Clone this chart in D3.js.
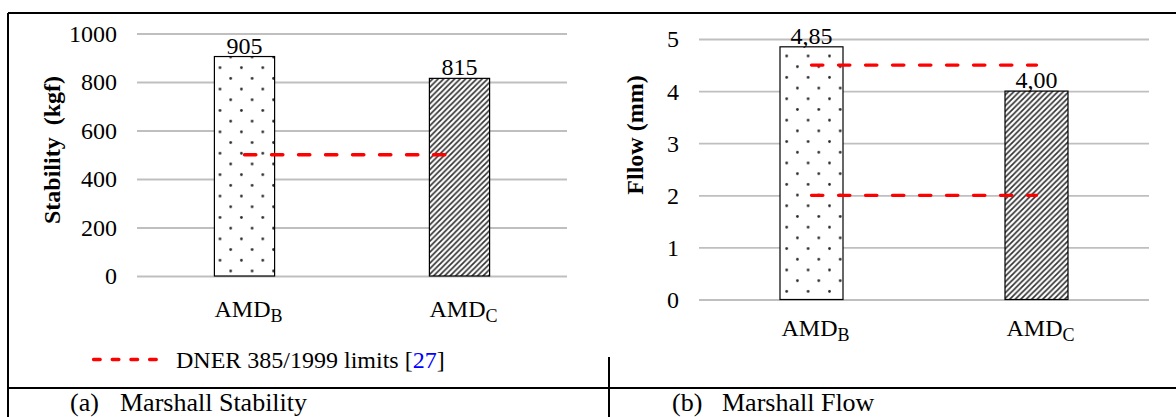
<!DOCTYPE html>
<html><head><meta charset="utf-8">
<script src="https://cdn.jsdelivr.net/npm/d3@7"></script>
<style>
html,body{margin:0;padding:0;background:#fff;}
svg{display:block;}
text{font-family:"Liberation Serif","Times New Roman",serif;fill:#000;}
</style></head><body>
<svg id="chart" width="1176" height="417"></svg>
<script>
// ---- data ----
const categories = ["AMD_B", "AMD_C"];
const catMain = ["AMD", "AMD"];
const catSub = ["B", "C"];
const stabilityValues = [905, 815];
const flowValues = [4.85, 4.00];
const stabilityTicks = [0, 200, 400, 600, 800, 1000];
const flowTicks = [0, 1, 2, 3, 4, 5];
const stabilityLimits = [500];
const flowLimits = [4.5, 2];
const legendParts = ["DNER 385/1999 limits [", "27", "]"];
const captionLetters = ["(a)", "(b)"];
const captionTexts = ["Marshall Stability", "Marshall Flow"];
const yTitles = ["Stability  (kgf)", "Fllow (mm)"];

const svg = d3.select("#chart");
svg.append("rect").attr("width", 1176).attr("height", 417).attr("fill", "#fff");
const defs = svg.append("defs");

function dotPattern(id, ox, oy) {
  const s = 21.4;
  const p = defs.append("pattern").attr("id", id).attr("patternUnits", "userSpaceOnUse")
    .attr("width", s).attr("height", s).attr("x", ox).attr("y", oy);
  p.append("rect").attr("width", s).attr("height", s).attr("fill", "#fff");
  p.append("circle").attr("cx", s / 4).attr("cy", s / 4).attr("r", 1.35).attr("fill", "#2a2a2a");
  p.append("circle").attr("cx", 3 * s / 4).attr("cy", 3 * s / 4).attr("r", 1.35).attr("fill", "#2a2a2a");
}
function hatchPattern(id) {
  const s = 5.5;
  const p = defs.append("pattern").attr("id", id).attr("patternUnits", "userSpaceOnUse")
    .attr("width", s).attr("height", s);
  p.append("rect").attr("width", s).attr("height", s).attr("fill", "#fff");
  p.append("path").attr("d", `M0,${s} L${s},0 M${-s/2},${s/2} L${s/2},${-s/2} M${s/2},${s*1.5} L${s*1.5},${s/2}`)
    .attr("stroke", "#333").attr("stroke-width", 1.7);
}
dotPattern("dotsL", 220 - 21.4 / 4, 67.7 - 21.4 / 4);
dotPattern("dotsR", 786.7 - 21.4 / 4, 56 - 21.4 / 4);
hatchPattern("hatch");

function drawPanel(o) {
  const g = svg.append("g");
  const x = d3.scaleBand().domain(categories).range(o.xr).paddingInner(0.72).paddingOuter(0.36);
  const y = d3.scaleLinear().domain(o.yd).range(o.yr);

  const axis = d3.axisLeft(y).tickValues(o.ticks).tickSize(-(o.xr[1] - o.xr[0])).tickPadding(20)
    .tickFormat(d3.format("d"));
  const ag = g.append("g").attr("transform", `translate(${o.xr[0]},0)`).call(axis);
  ag.select(".domain").remove();
  ag.selectAll(".tick line").attr("stroke", "#bfbfbf").attr("stroke-width", 1.8);
  ag.selectAll(".tick text").attr("font-size", 24).attr("fill", "#000")
    .attr("font-family", '"Liberation Serif","Times New Roman",serif').attr("dy", "0.33em");

  const bw = x.bandwidth();
  g.selectAll(".bar").data(o.values).join("rect")
    .attr("x", (d, i) => x(categories[i]))
    .attr("y", d => y(d))
    .attr("width", bw)
    .attr("height", d => y(0) - y(d))
    .attr("fill", (d, i) => `url(#${o.patterns[i]})`)
    .attr("stroke", "#000").attr("stroke-width", 1.2);

  const cx = i => x(categories[i]) + bw / 2;
  g.selectAll(".lim").data(o.limits).join("line")
    .attr("x1", cx(0)).attr("x2", cx(1))
    .attr("y1", d => y(d)).attr("y2", d => y(d))
    .attr("stroke", "#ff0000").attr("stroke-width", 3.3)
    .attr("stroke-dasharray", "11.4,15.6").attr("stroke-linecap", "round");

  g.selectAll(".val").data(o.values).join("text")
    .attr("x", (d, i) => cx(i)).attr("y", d => y(d) - 3)
    .attr("text-anchor", "middle").attr("font-size", 24)
    .text(o.fmt);

  categories.forEach((c, i) => {
    const t = g.append("text").attr("x", cx(i) + 4).attr("y", o.catY)
      .attr("text-anchor", "middle").attr("font-size", 24);
    t.append("tspan").text(catMain[i]);
    t.append("tspan").attr("font-size", 18).attr("dy", 4.5).text(catSub[i]);
  });

  g.append("text").attr("transform", `translate(${o.titleX},${o.titleY}) rotate(-90)`)
    .attr("text-anchor", "middle").attr("font-size", 24).attr("font-weight", "bold")
    .style("white-space", "pre").attr("xml:space", "preserve")
    .text(o.title);
}

drawPanel({
  xr: [137, 567], yd: [0, 1000], yr: [276, 33.5], ticks: stabilityTicks,
  values: stabilityValues, limits: stabilityLimits, patterns: ["dotsL", "hatch"],
  fmt: d3.format("d"), catY: 317, title: yTitles[0], titleX: 60, titleY: 150
});
drawPanel({
  xr: [699, 1149], yd: [0, 5], yr: [299.5, 39], ticks: flowTicks,
  values: flowValues, limits: flowLimits, patterns: ["dotsR", "hatch"],
  fmt: d => d3.format(".2f")(d).replace(".", ","), catY: 336, title: yTitles[1], titleX: 643, titleY: 135
});

// legend
svg.append("line").attr("x1", 93.5).attr("x2", 158).attr("y1", 359.5).attr("y2", 359.5)
  .attr("stroke", "#ff0000").attr("stroke-width", 3.3)
  .attr("stroke-dasharray", "6.7,12").attr("stroke-linecap", "round");
const lt = svg.append("text").attr("x", 176).attr("y", 368).attr("font-size", 24);
legendParts.forEach((p, i) => lt.append("tspan").attr("fill", i === 1 ? "#0000ff" : "#000").text(p));

// frame lines
const frame = [[8, 13, 1176, 13], [8, 13, 8, 417], [8, 388, 1176, 388], [609, 357, 609, 417]];
svg.selectAll(".frame").data(frame).join("line")
  .attr("x1", d => d[0]).attr("y1", d => d[1]).attr("x2", d => d[2]).attr("y2", d => d[3])
  .attr("stroke", "#000").attr("stroke-width", 2);

// captions
const capX = [70, 672];
captionLetters.forEach((c, i) => {
  svg.append("text").attr("x", capX[i]).attr("y", 410.5).attr("font-size", 26).text(c);
  svg.append("text").attr("x", capX[i] + 50).attr("y", 410.5).attr("font-size", 26).text(captionTexts[i]);
});
</script>
</body></html>
